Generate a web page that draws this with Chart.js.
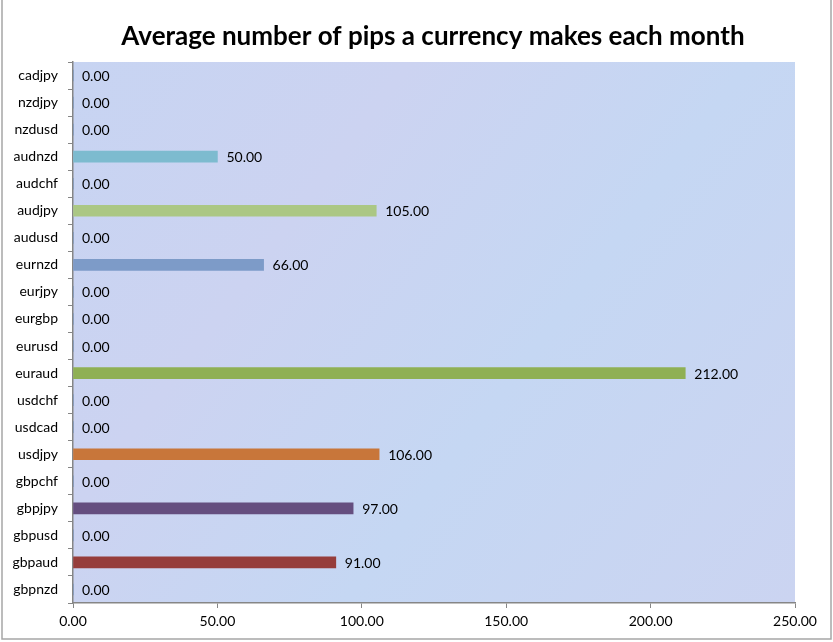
<!DOCTYPE html>
<html>
<head>
<meta charset="utf-8">
<script src="https://cdn.jsdelivr.net/npm/chart.js@4/dist/chart.umd.min.js"></script>
<style>
  html, body { margin: 0; padding: 0; background: #fff; overflow: hidden; }
  #wrap { width: 833px; height: 642px; position: relative; }
</style>
</head>
<body>
<div id="wrap"><canvas id="pipsChart"></canvas></div>
<script>
// values
const pairs = ['cadjpy', 'nzdjpy', 'nzdusd', 'audnzd', 'audchf', 'audjpy', 'audusd', 'eurnzd', 'eurjpy', 'eurgbp',
               'eurusd', 'euraud', 'usdchf', 'usdcad', 'usdjpy', 'gbpchf', 'gbpjpy', 'gbpusd', 'gbpaud', 'gbpnzd'];
const avgPips = [0, 0, 0, 50, 0, 105, 0, 66, 0, 0, 0, 212, 0, 0, 106, 0, 97, 0, 91, 0];
const barColors = ['#4f81bd', '#4f81bd', '#4f81bd', '#7dbbcf', '#4f81bd', '#abc784', '#4f81bd', '#7d9bc8', '#4f81bd', '#4f81bd',
                   '#4f81bd', '#8fb054', '#4f81bd', '#4f81bd', '#c8763a', '#4f81bd', '#654e7f', '#4f81bd', '#963d3b', '#4f81bd'];
const xTicks = [0, 50, 100, 150, 200, 250];
const chartTitle = 'Average number of pips a currency makes each month';

const FONT = 'Lato, Calibri, "Liberation Sans", sans-serif';

// plot background, title and outer frame
const backdrop = {
    id: 'backdrop',
    beforeDraw(chart) {
        const { ctx, chartArea: a } = chart;
        ctx.save();
        const g = ctx.createLinearGradient(a.left, a.top, a.right, a.bottom);
        g.addColorStop(0, '#c7d4f2');
        g.addColorStop(0.3, '#ccd3f1');
        g.addColorStop(0.6, '#c5d7f3');
        g.addColorStop(1, '#cbd4f1');
        ctx.fillStyle = g;
        ctx.fillRect(a.left, a.top, a.right - a.left, a.bottom - a.top);
        ctx.restore();
    },
    afterDraw(chart) {
        const { ctx } = chart;
        ctx.save();
        ctx.fillStyle = '#000';
        ctx.font = 'bold 26px ' + FONT;
        ctx.textAlign = 'center';
        ctx.textBaseline = 'middle';
        ctx.fillText(chartTitle, 433, 37);
        ctx.strokeStyle = '#a6a6a6';
        ctx.lineWidth = 1.5;
        ctx.strokeRect(2, -5, 829, 644);
        ctx.restore();
    }
};

// value labels at the end of each bar
const valueLabels = {
    id: 'valueLabels',
    afterDatasetsDraw(chart) {
        const { ctx } = chart;
        const meta = chart.getDatasetMeta(0);
        ctx.save();
        ctx.font = '14px ' + FONT;
        ctx.fillStyle = '#000';
        ctx.textAlign = 'left';
        ctx.textBaseline = 'middle';
        meta.data.forEach((bar, i) => {
            ctx.fillText(avgPips[i].toFixed(2), bar.x + 9, bar.y + 1);
        });
        ctx.restore();
    }
};

new Chart(document.getElementById('pipsChart'), {
    type: 'bar',
    data: {
        labels: pairs,
        datasets: [{
            data: avgPips,
            backgroundColor: barColors,
            borderWidth: 0,
            barThickness: 11
        }]
    },
    options: {
        indexAxis: 'y',
        responsive: true,
        maintainAspectRatio: false,
        animation: false,
        layout: { padding: { top: 62, right: 38, bottom: 2, left: 0 } },
        plugins: {
            legend: { display: false },
            tooltip: { enabled: false },
            title: { display: false }
        },
        scales: {
            x: {
                min: 0,
                max: 250,
                afterBuildTicks: s => { s.ticks = xTicks.map(v => ({ value: v })); },
                afterFit: s => { s.height = 37; },
                ticks: {
                    color: '#000',
                    font: { family: FONT, size: 14 },
                    padding: 5,
                    callback: v => Number(v).toFixed(2)
                },
                grid: { drawOnChartArea: false, drawTicks: true, tickLength: 5, color: '#868686' },
                border: { color: '#868686', width: 1.5 }
            },
            y: {
                afterFit: s => { s.width = 73; },
                ticks: {
                    color: '#000',
                    font: { family: FONT, size: 14 },
                    padding: 10
                },
                grid: { offset: true, drawOnChartArea: false, drawTicks: true, tickLength: 5, color: '#868686' },
                border: { color: '#868686', width: 1.5 }
            }
        }
    },
    plugins: [backdrop, valueLabels]
});
</script>
</body>
</html>
